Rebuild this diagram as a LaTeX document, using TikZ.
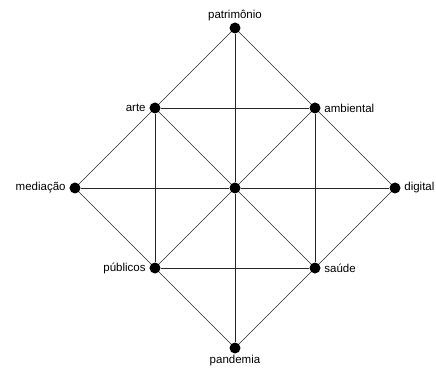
\documentclass[tikz,border=0pt]{standalone}
\usepackage{fontspec}
\setmainfont{Liberation Sans}
\usetikzlibrary{positioning}

\begin{document}
\begin{tikzpicture}[
            x=1pt, y=1pt,
            node distance=80pt and 80pt,
            on grid,
            font=\fontsize{11.5}{13}\selectfont,
            ponto/.style={circle, fill=black, draw=none, inner sep=0pt, minimum size=11pt},
            rotulo/.style={inner sep=1.5pt},
            linha/.style={line width=0.7pt, black!85}
        ]
        \useasboundingbox (-235,-181) rectangle (201,188);

        % Nodi
        \node (centro) [ponto] {};
        \node (patrimonio) [ponto, above=160pt of centro, label={[rotulo, label distance=0pt]above:patrimônio}] {};
        \node (pandemia) [ponto, below=160pt of centro, label={[rotulo, label distance=0pt]below:pandemia}] {};
        \node (mediacao) [ponto, left=160pt of centro, label={[rotulo, label distance=2pt]left:mediação}] {};
        \node (digital) [ponto, right=160pt of centro, label={[rotulo, label distance=2pt]right:digital}] {};

        \node (arte) [ponto, above left=of centro, label={[rotulo, label distance=2pt]left:arte}] {};
        \node (ambiental) [ponto, above right=of centro, label={[rotulo, label distance=2pt]right:ambiental}] {};
        \node (publicos) [ponto, below left=of centro, label={[rotulo, label distance=2pt]left:públicos}] {};
        \node (saude) [ponto, below right=of centro, label={[rotulo, label distance=2pt]right:saúde}] {};

        % Collegamenti - losango externo
        \draw [linha] (patrimonio) -- (arte) -- (mediacao) -- (publicos) -- (pandemia);
        \draw [linha] (pandemia) -- (saude) -- (digital) -- (ambiental) -- (patrimonio);

        % Quadrado interno
        \draw [linha] (arte) -- (ambiental) -- (saude) -- (publicos) -- (arte);

        % Diagonais pelo centro
        \draw [linha] (patrimonio) -- (centro) -- (pandemia);
        \draw [linha] (mediacao) -- (centro) -- (digital);
        \draw [linha] (arte) -- (centro) -- (saude);
        \draw [linha] (ambiental) -- (centro) -- (publicos);

    \end{tikzpicture}
\end{document}
